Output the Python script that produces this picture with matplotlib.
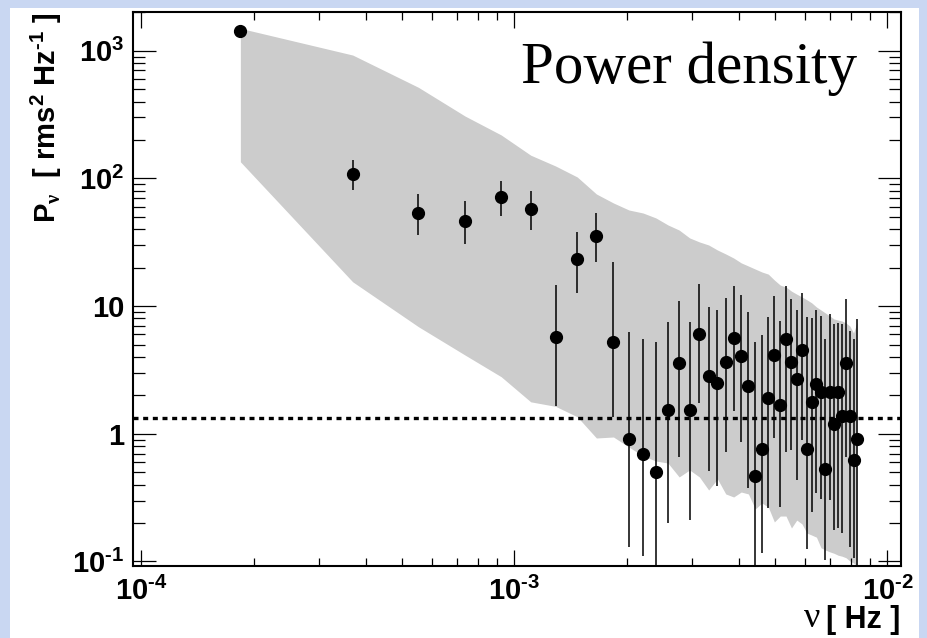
import matplotlib
matplotlib.use('Agg')
import matplotlib.pyplot as plt
from matplotlib.patches import Rectangle
from matplotlib.ticker import FixedLocator, FixedFormatter, LogLocator, NullFormatter

plt.rcParams['font.family'] = 'Liberation Sans'
plt.rcParams['font.weight'] = 'bold'
plt.rcParams['mathtext.fontset'] = 'custom'
plt.rcParams['mathtext.rm'] = 'Liberation Serif'

# frequencies of the periodogram bins [Hz]
freq = [1.843e-4, 3.686e-4, 5.529e-4, 7.372e-4, 9.215e-4, 1.106e-3, 1.290e-3,
        1.474e-3, 1.659e-3, 1.843e-3, 2.027e-3, 2.212e-3, 2.396e-3, 2.580e-3,
        2.765e-3, 2.949e-3, 3.133e-3, 3.317e-3, 3.502e-3, 3.686e-3, 3.870e-3,
        4.055e-3, 4.239e-3, 4.423e-3, 4.608e-3, 4.792e-3, 4.976e-3, 5.160e-3,
        5.345e-3, 5.529e-3, 5.713e-3, 5.898e-3, 6.082e-3, 6.266e-3, 6.451e-3,
        6.635e-3, 6.819e-3, 7.003e-3, 7.188e-3, 7.372e-3, 7.556e-3, 7.741e-3,
        7.925e-3, 8.109e-3, 8.294e-3]
# power density [rms^2 Hz^-1]
power = [1430, 108, 53.3, 46.7, 71.1, 57.6, 5.73, 23.3, 35.2, 5.24,
         0.905, 0.691, 0.502, 1.53, 3.58, 1.53, 6.02, 2.84, 2.50, 3.68,
         5.60, 4.09, 2.38, 0.467, 0.763, 1.91, 4.14, 1.68, 5.56, 3.65,
         2.71, 4.53, 0.760, 1.77, 2.44, 2.14, 0.533, 2.12, 1.20, 2.12,
         1.37, 3.56, 1.38, 0.621, 0.911]
# error bar ends
err_hi = [1430, 139, 75.9, 66.9, 95.4, 80.1, 14.6, 38.0, 53.3, 22.1,
          6.23, 5.53, 5.21, 7.55, 11.0, 7.47, 14.8, 9.79, 9.32, 11.5,
          14.3, 12.2, 8.99, 5.24, 5.94, 8.26, 12.0, 7.69, 14.3, 11.4,
          9.32, 12.7, 8.17, 8.07, 9.24, 8.37, 5.53, 8.67, 7.18, 7.33,
          7.18, 11.4, 6.33, 5.50, 7.88]
err_lo = [1430, 81.5, 35.8, 30.6, 50.8, 39.7, 1.65, 12.6, 22.3, 1.36,
          0.131, 0.111, 0.09, 0.201, 0.662, 0.211, 1.75, 0.514, 0.390, 0.724,
          1.52, 0.867, 0.374, 0.09, 0.116, 0.261, 0.922, 0.265, 0.719, 0.747,
          0.435, 0.891, 0.125, 0.245, 0.346, 0.307, 0.103, 0.303, 0.176, 0.182,
          0.167, 0.662, 0.131, 0.106, 0.09]
# simulated band (upper / lower envelope)
band_hi = [1497, 925, 517, 308, 219, 152, 125, 102.6, 75.5, 64.2,
           56.6, 53.6, 49.0, 43.2, 39.4, 34.2, 31.8, 30.1, 27.5, 25.6,
           23.8, 21.8, 20.6, 19.5, 18.5, 17.8, 16.0, 14.6, 14.1, 13.1,
           12.4, 11.8, 11.2, 10.6, 9.84, 9.32, 8.83, 8.37, 7.93, 7.78,
           7.64, 7.37, 6.99, 6.16, 7.51]
band_lo = [135, 15.5, 6.90, 4.14, 2.80, 1.78, 1.64, 1.36, 0.927, 0.944,
           0.788, 0.670, 0.612, 0.590, 0.459, 0.521, 0.459, 0.363, 0.443, 0.338,
           0.320, 0.350, 0.338, 0.258, 0.287, 0.267, 0.204, 0.227, 0.227, 0.183,
           0.211, 0.197, 0.167, 0.161, 0.155, 0.128, 0.123, 0.119, 0.116, 0.112,
           0.110, 0.107, 0.101, 0.0973, 0.0922]
noise_level = 1.32

HY = '\u2010'   # short hyphen instead of the long mathtext minus
xticks = [1e-4, 1e-3, 1e-2]
xticklabels = ['$\\mathregular{10^{' + HY + '4}}$', '$\\mathregular{10^{' + HY + '3}}$',
               '$\\mathregular{10^{' + HY + '2}}$']
yticks = [0.1, 1, 10, 100, 1000]
yticklabels = ['$\\mathregular{10^{' + HY + '1}}$', '1', '10',
               r'$\mathregular{10^{2}}$', r'$\mathregular{10^{3}}$']
ylabel = r'P$_{\mathrm{ν}}$  [ rms$^{\mathregular{2}}$ Hz$^{\mathregular{' + HY + '1}}$ ]'

fig = plt.figure(figsize=(9.28, 6.38), dpi=100)
fig.patch.set_facecolor('#c9d7f2')
# white slide panel
fig.add_artist(Rectangle((10/928, 0), 909/928, 630/638, transform=fig.transFigure,
                         facecolor='white', edgecolor='none', zorder=0))

ax = fig.add_axes([133/928, 72/638, 768/928, 554/638])
ax.set_facecolor('white')
ax.set_xscale('log')
ax.set_yscale('log')

ax.fill_between(freq, band_lo, band_hi, color='#cccccc', lw=0, zorder=1)
ax.axhline(noise_level, color='black', lw=2.4, ls=(0, (1.5, 1.4)), zorder=2)
ax.vlines(freq, err_lo, err_hi, color='black', lw=1.1, zorder=3)
ax.plot(freq, power, 'o', color='black', ms=8.5, zorder=4)

ax.set_xlim(9.5e-5, 1.087e-2)
ax.set_ylim(0.0922, 2010)

ax.xaxis.set_major_locator(FixedLocator(xticks))
ax.xaxis.set_major_formatter(FixedFormatter(xticklabels))
ax.xaxis.set_minor_locator(LogLocator(base=10, subs=range(2, 10), numticks=20))
ax.xaxis.set_minor_formatter(NullFormatter())
ax.yaxis.set_major_locator(FixedLocator(yticks))
ax.yaxis.set_major_formatter(FixedFormatter(yticklabels))
ax.yaxis.set_minor_locator(LogLocator(base=10, subs=range(2, 10), numticks=20))
ax.yaxis.set_minor_formatter(NullFormatter())

ax.tick_params(which='both', direction='in', top=True, right=True, width=0.9,
               labelsize=21)
ax.tick_params(axis='x', which='major', length=11.5, pad=8)
ax.tick_params(axis='x', which='minor', length=5.5)
ax.tick_params(axis='y', which='major', length=16.5, pad=6)
ax.tick_params(axis='y', which='minor', length=8.5)
for sp in ax.spines.values():
    sp.set_linewidth(1.5)

fig.text(857/928, 1 - 83/638, 'Power density', family='Liberation Serif',
         weight='normal', size=42.5, ha='right', va='baseline')
fig.text(46/928, 1 - 13/638, ylabel, rotation=90, ha='center', va='top',
         size=21, weight='bold')
hz = fig.text(900/928, 3/638, '[ Hz ]', ha='right', va='bottom',
              size=22, weight='bold')
ax.annotate('ν', xy=(0, 0), xycoords=hz, xytext=(-4, 0), textcoords='offset points',
            family='Liberation Serif', weight='normal', size=26, ha='right', va='bottom')

fig.savefig('out.png', dpi=100, facecolor=fig.get_facecolor())
